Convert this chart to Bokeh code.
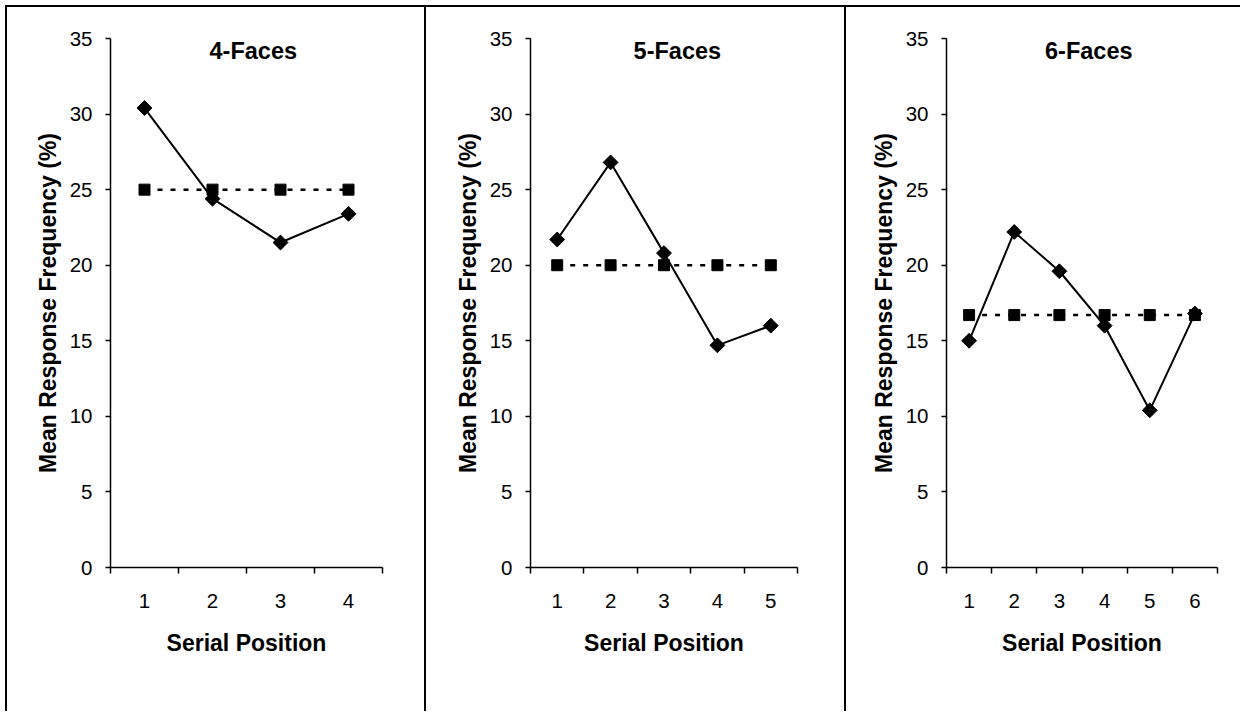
import numpy as np
from bokeh.plotting import figure
from bokeh.models import Range1d, FixedTicker, Label, Div
from bokeh.layouts import row, column
from bokeh.embed import file_html
from bokeh.resources import INLINE

FONT = "Liberation Sans"

# ---- data -------------------------------------------------------------
titles = ["4-Faces", "5-Faces", "6-Faces"]
y_ticks = [0, 5, 10, 15, 20, 25, 30, 35]

positions_4 = [1, 2, 3, 4]
observed_4 = [30.4, 24.4, 21.5, 23.4]
chance_4 = [25.0, 25.0, 25.0, 25.0]

positions_5 = [1, 2, 3, 4, 5]
observed_5 = [21.7, 26.8, 20.8, 14.7, 16.0]
chance_5 = [20.0, 20.0, 20.0, 20.0, 20.0]

positions_6 = [1, 2, 3, 4, 5, 6]
observed_6 = [15.0, 22.2, 19.6, 16.0, 10.4, 16.8]
chance_6 = [16.7, 16.7, 16.7, 16.7, 16.7, 16.7]

x_label = "Serial Position"
y_label = "Mean Response Frequency (%)"

PANEL_H = 704


def make_panel(title, positions, observed, chance, width, b_left, b_right, title_x):
    n = len(positions)
    p = figure(width=width, height=PANEL_H,
               x_range=Range1d(0.5, n + 0.5), y_range=Range1d(0, 35),
               output_backend="svg", toolbar_location=None,
               min_border_left=b_left, min_border_right=b_right,
               min_border_top=31, min_border_bottom=144)
    p.margin = 0
    p.grid.visible = False
    p.outline_line_color = None
    p.background_fill_color = "white"
    p.border_fill_color = "white"

    # x axis: labels at category centres, ticks between categories
    xa = p.xaxis[0]
    xa.ticker = FixedTicker(ticks=list(positions),
                            minor_ticks=[k + 0.5 for k in range(n + 1)])
    xa.major_tick_line_color = None
    xa.major_tick_out = 5
    xa.major_tick_in = 0
    xa.minor_tick_line_color = "black"
    xa.minor_tick_line_width = 1.5
    xa.minor_tick_out = 6
    xa.minor_tick_in = 0
    xa.axis_line_color = "black"
    xa.axis_line_width = 1.5
    xa.major_label_text_font = FONT
    xa.major_label_text_font_size = "20.5px"
    xa.major_label_text_color = "black"
    xa.major_label_standoff = 20
    xa.axis_label = x_label
    xa.axis_label_text_font = FONT
    xa.axis_label_text_font_size = "23px"
    xa.axis_label_text_font_style = "bold"
    xa.axis_label_text_color = "black"
    xa.axis_label_standoff = 19

    ya = p.yaxis[0]
    ya.ticker = FixedTicker(ticks=y_ticks, minor_ticks=[])
    ya.major_tick_out = 5
    ya.major_tick_in = 0
    ya.major_tick_line_width = 1.5
    ya.major_tick_line_color = "black"
    ya.minor_tick_line_color = None
    ya.axis_line_color = "black"
    ya.axis_line_width = 1.5
    ya.major_label_text_font = FONT
    ya.major_label_text_font_size = "20.5px"
    ya.major_label_text_color = "black"
    ya.major_label_standoff = 13
    ya.axis_label = y_label
    ya.axis_label_text_font = FONT
    ya.axis_label_text_font_size = "23px"
    ya.axis_label_text_font_style = "bold"
    ya.axis_label_text_color = "black"
    ya.axis_label_standoff = 6

    # chance level (dotted with squares)
    p.line(positions, chance, line_color="black", line_width=2.5, line_dash="5 8")
    p.scatter(positions, chance, marker="square", size=11,
              fill_color="black", line_color="black")

    # observed (solid with diamonds)
    p.line(positions, observed, line_color="black", line_width=2)
    p.scatter(positions, observed, marker="square", angle=np.pi / 4, size=10.5,
              fill_color="black", line_color="black")

    p.add_layout(Label(x=title_x, y=34.2, text=title,
                       text_font=FONT, text_font_size="23.5px",
                       text_font_style="bold", text_color="black",
                       text_align="center", text_baseline="middle"))
    return p


p1 = make_panel(titles[0], positions_4, observed_4, chance_4, 417, 103, 42, 2.6)
p2 = make_panel(titles[1], positions_5, observed_5, chance_5, 418, 104, 47, 3.25)
p3 = make_panel(titles[2], positions_6, observed_6, chance_6, 394, 100, 23, 3.65)


def vbar_div(h):
    return Div(text="", width=2, height=h, margin=0,
               styles={"background-color": "black"})


top = Div(text="", width=1235, height=2, margin=0,
          styles={"background-color": "black"})
body = row(vbar_div(PANEL_H), p1, vbar_div(PANEL_H), p2, vbar_div(PANEL_H), p3,
           spacing=0, margin=0)
layout = column(top, body, spacing=0, margin=(5, 0, 0, 5))

with open("out.html", "w") as f:
    f.write(file_html(layout, INLINE))
